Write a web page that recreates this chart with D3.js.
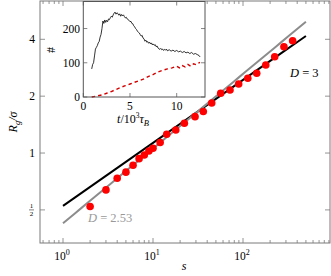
<!DOCTYPE html>
<html><head><meta charset="utf-8">
<script src="https://cdn.jsdelivr.net/npm/d3@7"></script>
<style>body{margin:0;background:#fff}svg{display:block}text{font-family:"Liberation Serif","DejaVu Serif",serif}</style>
</head><body><svg id="c" width="331" height="276"></svg>
<script>
// ---- data ----
const sizes = [2,3,4,5,6,7,8,9,10,12,14.2,17.9,22.3,29.3,36.2,44.9,56.5,71.7,89.5,113,142,179,225,285,356];
const rg = [0.521,0.638,0.736,0.792,0.862,0.934,0.977,1.026,1.060,1.138,1.257,1.325,1.438,1.558,1.660,1.841,2.072,2.157,2.320,2.487,2.643,2.925,3.236,3.655,3.932];
const fitRange = [1, 500];
const fit3 = {amp: 0.525, D: 3};
const fit253 = {amp: 0.425, D: 2.53};
const xTicks = [1, 10, 100];
const yTicks = [0.5, 1, 2, 4];
const yTickLabels = ["1/2", "1", "2", "4"];
const insetT = [0.9,1.0,1.1,1.2,1.3,1.4,1.5,1.6,1.7,1.8,1.9,2.0,2.1,2.2,2.3,2.4,2.5,2.6,2.7,2.8,2.9,3.0,3.1,3.2,3.3,3.4,3.5,3.6,3.7,3.8,3.9,4.0,4.1,4.2,4.3,4.4,4.5,4.6,4.7,4.8,4.9,5.0,5.1,5.2,5.3,5.4,5.5,5.6,5.7,5.8,5.9,6.0,6.1,6.2,6.3,6.4,6.5,6.6,6.7,6.8,6.9,7.0,7.1,7.2,7.3,7.4,7.5,7.6,7.7,7.8,7.9,8.0,8.1,8.2,8.3,8.4,8.5,8.6,8.7,8.8,8.9,9.0,9.2,9.4,9.6,9.8,10.0,10.2,10.4,10.6,10.8,11.0,11.2,11.4,11.6,11.8,12.0,12.2,12.4,12.5];
const insetCount = [82,95,100,120,140,145,150,158,162,175,183,200,222,215,225,218,224,220,228,226,232,236,233,240,245,248,242,246,244,239,243,236,241,237,240,235,231,233,228,226,224,220,221,215,214,208,205,200,197,192,189,187,182,178,180,172,170,163,166,160,162,157,160,155,158,152,155,151,153,147,149,143,141,139,142,138,140,136,139,137,140,135,138,134,137,133,136,132,134,130,133,129,131,127,130,125,127,124,121,117];
const redT = [0.9,1.5,2.0,2.5,3.0,3.5,4.0,4.5,5.0,5.5,6.0,6.5,7.0,7.5,8.0,8.5,9.0,9.5,10.0,10.3,10.6,10.9,11.2,11.5,11.8,12.1,12.4,12.5];
const redCount = [0,3,6,11,16,22,28,33,38,43,48,53,60,66,73,78,82,85,90,85,92,88,95,90,97,94,100,101];
const insetXTicks = [0,5,10];
const insetYTicks = [0,100,200];

// ---- chart ----
const svg = d3.select("#c");
const L=40, R=330, T=1, B=243;
const x = d3.scaleLog().domain([0.555, 926]).range([L, R]);
const y = d3.scaleLog().base(2).domain([0.334, 6.38]).range([B, T]);
const frameCol = "#7a7a7a";

// ticks
const g = svg.append("g");
const minor = [];
for (let e = -1; e <= 2; e++) for (let k = 1; k <= 9; k++) { const v = k*Math.pow(10,e); if (v>=0.555 && v<=926) minor.push(v); }
minor.forEach(v => {
  const major = xTicks.includes(v);
  const len = major ? 5 : 3;
  g.append("line").attr("x1",x(v)).attr("x2",x(v)).attr("y1",B).attr("y2",B-len).attr("stroke",frameCol).attr("stroke-width",0.8);
  g.append("line").attr("x1",x(v)).attr("x2",x(v)).attr("y1",T).attr("y2",T+len).attr("stroke",frameCol).attr("stroke-width",0.8);
});
yTicks.forEach(v => {
  g.append("line").attr("x1",L).attr("x2",L+5).attr("y1",y(v)).attr("y2",y(v)).attr("stroke",frameCol).attr("stroke-width",0.8);
  g.append("line").attr("x1",R).attr("x2",R-5).attr("y1",y(v)).attr("y2",y(v)).attr("stroke",frameCol).attr("stroke-width",0.8);
});

// x tick labels
xTicks.forEach((v,i) => {
  const t = svg.append("text").attr("x", x(v)-1).attr("y", 260).attr("text-anchor","middle").attr("font-size",11.5);
  t.append("tspan").text("10");
  t.append("tspan").attr("dy",-5).attr("font-size",8).text(String(Math.round(Math.log10(v))));
});
// y tick labels
yTicks.forEach((v,i) => {
  const lab = yTickLabels[i];
  if (lab.includes("/")) {
    const [n,d] = lab.split("/");
    const cx = 31.5, cy = y(v);
    svg.append("text").attr("x",cx).attr("y",cy-1.6).attr("text-anchor","middle").attr("font-size",7).text(n);
    svg.append("line").attr("x1",cx-2.5).attr("x2",cx+2.5).attr("y1",cy).attr("y2",cy).attr("stroke","#000").attr("stroke-width",0.5);
    svg.append("text").attr("x",cx).attr("y",cy+6.6).attr("text-anchor","middle").attr("font-size",7).text(d);
  } else {
    svg.append("text").attr("x",35).attr("y",y(v)+4).attr("text-anchor","end").attr("font-size",11.5).text(lab);
  }
});

// axis labels
svg.append("text").attr("x",184).attr("y",270).attr("text-anchor","middle").attr("font-size",12).attr("font-style","italic").text("s");
const yl = svg.append("text").attr("transform","translate(17,122) rotate(-90)").attr("text-anchor","middle").attr("font-size",12).attr("font-style","italic");
yl.append("tspan").text("R");
yl.append("tspan").attr("dy",3).attr("font-size",8.5).text("g");
yl.append("tspan").attr("dy",-3).text("/σ");

// fit lines
const fitPts = f => d3.range(0, 41).map(i => { const s = fitRange[0]*Math.pow(fitRange[1]/fitRange[0], i/40); return [s, f.amp*Math.pow(s, 1/f.D)]; });
const line = d3.line().x(d => x(d[0])).y(d => y(d[1]));
svg.append("path").attr("d", line(fitPts(fit3))).attr("fill","none").attr("stroke","#000").attr("stroke-width",2);
svg.append("path").attr("d", line(fitPts(fit253))).attr("fill","none").attr("stroke","#8c8c8c").attr("stroke-width",2);

// points
svg.append("g").selectAll("circle").data(sizes).join("circle")
  .attr("cx", d => x(d)).attr("cy", (d,i) => y(rg[i])).attr("r", 3.8).attr("fill","#ff0000");

// labels
const d3l = svg.append("text").attr("x",290).attr("y",77).attr("font-size",12.5);
d3l.append("tspan").attr("font-style","italic").text("D");
d3l.append("tspan").text(" = 3");
const d253 = svg.append("text").attr("x",88).attr("y",222).attr("font-size",12.5).attr("fill","#999");
d253.append("tspan").attr("font-style","italic").text("D");
d253.append("tspan").text(" = 2.53");

// frame
svg.append("rect").attr("x",L).attr("y",T).attr("width",R-L).attr("height",B-T).attr("fill","none").attr("stroke",frameCol).attr("stroke-width",1);

// ---- inset ----
const iL=83.3, iR=205, iT=1.5, iB=97;
const ix = d3.scaleLinear().domain([0, 13.03]).range([iL, iR]);
const iy = d3.scaleLinear().domain([0, 279]).range([iB, iT]);
svg.append("rect").attr("x",iL).attr("y",iT).attr("width",iR-iL).attr("height",iB-iT).attr("fill","#fff");
const ig = svg.append("g");
insetXTicks.forEach(v => {
  ig.append("line").attr("x1",ix(v)).attr("x2",ix(v)).attr("y1",iB).attr("y2",iB-4).attr("stroke","#666").attr("stroke-width",0.8);
  ig.append("line").attr("x1",ix(v)).attr("x2",ix(v)).attr("y1",iT).attr("y2",iT+4).attr("stroke","#666").attr("stroke-width",0.8);
  ig.append("text").attr("x",ix(v)).attr("y",109.5).attr("text-anchor","middle").attr("font-size",11.5).text(v);
});
insetYTicks.forEach(v => {
  ig.append("line").attr("x1",iL).attr("x2",iL+4).attr("y1",iy(v)).attr("y2",iy(v)).attr("stroke","#666").attr("stroke-width",0.8);
  ig.append("line").attr("x1",iR).attr("x2",iR-4).attr("y1",iy(v)).attr("y2",iy(v)).attr("stroke","#666").attr("stroke-width",0.8);
  ig.append("text").attr("x",80).attr("y",iy(v)+4).attr("text-anchor","end").attr("font-size",11.5).text(v);
});
ig.append("text").attr("transform","translate(55,50) rotate(-90)").attr("text-anchor","middle").attr("font-size",12).text("#");
const ixl = ig.append("text").attr("x",133).attr("y",122.5).attr("text-anchor","middle").attr("font-size",12);
ixl.append("tspan").attr("font-style","italic").text("t");
ixl.append("tspan").text("/10");
ixl.append("tspan").attr("dy",-4.5).attr("font-size",7.5).text("3");
ixl.append("tspan").attr("dy",4.5).attr("font-style","italic").text("τ");
ixl.append("tspan").attr("dy",3).attr("font-size",8.5).attr("font-style","italic").text("B");

const il = d3.line().x(d => ix(d[0])).y(d => iy(d[1]));
ig.append("path").attr("d", il(insetT.map((t,i)=>[t, insetCount[i]]))).attr("fill","none").attr("stroke","#000").attr("stroke-width",0.8);
ig.append("path").attr("d", il(redT.map((t,i)=>[t, redCount[i]]))).attr("fill","none").attr("stroke","#d40000").attr("stroke-width",1.4).attr("stroke-dasharray","3.5,3");
ig.append("rect").attr("x",iL).attr("y",iT).attr("width",iR-iL).attr("height",iB-iT).attr("fill","none").attr("stroke","#555").attr("stroke-width",1);
</script></body></html>
